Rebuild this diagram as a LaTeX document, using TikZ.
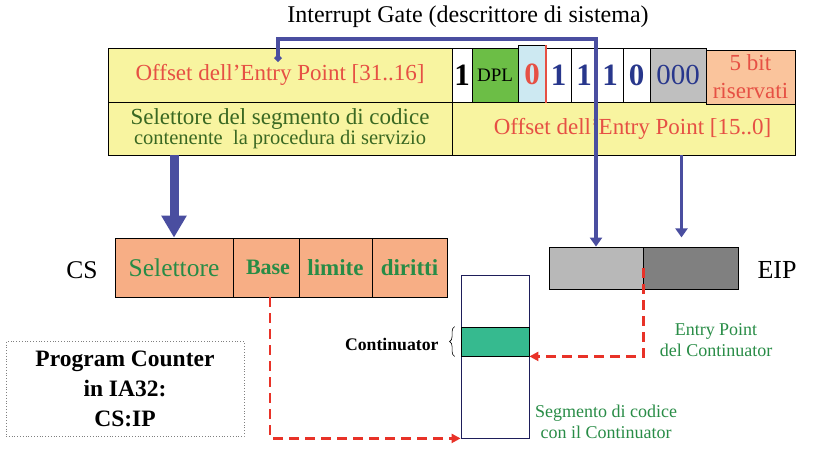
\documentclass[tikz,border=0pt]{standalone}
\usepackage{fontspec}
\setmainfont{Liberation Serif}
\usetikzlibrary{arrows.meta, positioning, calc, decorations.pathreplacing}

\definecolor{gateyellow}{RGB}{248,244,160}
\definecolor{offred}{RGB}{230,80,68}
\definecolor{selgreen}{RGB}{58,104,34}
\definecolor{txtgreen}{RGB}{40,140,70}
\definecolor{dplgreen}{RGB}{108,190,70}
\definecolor{bitblue}{RGB}{205,233,242}
\definecolor{digitblue}{RGB}{40,55,140}
\definecolor{resorange}{RGB}{250,196,156}
\definecolor{csorange}{RGB}{247,174,133}
\definecolor{linkblue}{RGB}{74,78,160}
\definecolor{eiplight}{RGB}{184,184,184}
\definecolor{eipdark}{RGB}{128,128,128}
\definecolor{contgreen}{RGB}{54,186,143}
\definecolor{dashred}{RGB}{232,50,40}
\definecolor{segnavy}{RGB}{30,30,90}

\newcommand{\fsz}[2]{\fontsize{#1}{#2}\selectfont}

\begin{document}
\begin{tikzpicture}[x=1pt, y=-1pt,
		cell/.style={rectangle, draw, line width=0.8pt, inner sep=0pt, minimum height=54pt},
		bitbold/.style={font=\fsz{31}{32}\bfseries},
		bluelink/.style={draw=linkblue, line width=3.5pt},
		dashlink/.style={draw=dashred, line width=2.6pt, dash pattern=on 10pt off 6pt, -{Triangle[length=9pt, width=9pt]}}]
			\useasboundingbox (0,0) rectangle (813,448);
			
			% Title
			\node[font=\fsz{24}{28}] (title) at (468,17) {Interrupt Gate (descrittore di sistema)};
			
			% Descriptor, left half
			\node[cell, fill=gateyellow, minimum width=344pt, text=offred, font=\fsz{23}{26}] (offhi) at (280,75) {\raisebox{-5pt}{Offset dell’Entry Point [31..16]}};
			\node[cell, fill=gateyellow, minimum width=344pt, minimum height=53pt, text=selgreen, align=center] (sel) at (280,128.5) {{\fsz{23}{23}Selettore del segmento di codice}\\{\fsz{20.5}{23}contenente\ \ la procedura di servizio}};
			
			% Descriptor, right half
			\node[cell, fill=gateyellow, minimum width=343pt, minimum height=53pt, text=offred, font=\fsz{23}{26}] (offlo) at (623.5,128.5) {\hspace*{18pt}Offset dell’Entry Point [15..0]};
			\node[cell, fill=white, minimum width=20pt, bitbold] (b15) at (462,75) {1};
			\node[cell, fill=dplgreen, minimum width=46pt, font=\fsz{19}{20}] (dpl) at (495,75) {DPL};
			\node[cell, fill=bitblue, minimum width=28pt, minimum height=57pt, bitbold, text=offred] (b12) at (532,74) {0};
			\node[cell, fill=white, minimum width=25pt, bitbold, text=digitblue] (b11) at (558.5,75) {1};
			\node[cell, fill=white, minimum width=26pt, bitbold, text=digitblue] (b10) at (584,75) {1};
			\node[cell, fill=white, minimum width=26pt, bitbold, text=digitblue] (b9) at (610,75) {1};
			\node[cell, fill=white, minimum width=27pt, bitbold, text=digitblue] (b8) at (636.5,75) {0};
			\node[cell, fill=eiplight!90!white, minimum width=56pt, font=\fsz{29}{30}, text=digitblue] (b7) at (678,75) {000};
			\node[cell, fill=resorange, minimum width=89pt, text=offred, align=center, font=\fsz{23}{28}] (res) at (750.5,77) {5 bit\\riservati};
			\draw[offred, line width=2pt] (b12.north east) -- (b12.south east);
			
			% CS register
			\node[cell, fill=csorange, minimum width=118pt, minimum height=59pt, text=txtgreen, font=\fsz{25.5}{28}] (cssel) at (174,267.5) {Selettore};
			\node[cell, fill=csorange, minimum width=66pt, minimum height=59pt, text=txtgreen, font=\fsz{22}{26}\bfseries] (csbase) at (266,267.5) {\hspace*{4pt}Base};
			\node[cell, fill=csorange, minimum width=73pt, minimum height=59pt, text=txtgreen, font=\fsz{23}{26}\bfseries] (cslim) at (335.5,267.5) {limite};
			\node[cell, fill=csorange, minimum width=75pt, minimum height=59pt, text=txtgreen, font=\fsz{23}{26}\bfseries] (csdir) at (409.5,267.5) {diritti};
			\node[font=\fsz{25.5}{28}] (cs) at (82,270) {CS};
			
			% EIP register
			\node[cell, fill=eiplight, minimum width=94pt, minimum height=42pt] (eiphi) at (596,268) {};
			\node[cell, fill=eipdark, minimum width=95pt, minimum height=42pt] (eiplo) at (690.5,268) {};
			\node[font=\fsz{26}{28}] (eip) at (777,270) {EIP};
			
			% Code segment
			\node[rectangle, draw=segnavy, line width=0.8pt, minimum width=68pt, minimum height=163pt] (seg) at (495,356.5) {};
			\node[cell, fill=contgreen, minimum width=68pt, minimum height=29pt] (cont) at (495,341.5) {};
			\node[anchor=east, font=\fsz{17.7}{20}\bfseries] (contlbl) at (442,344) {Continuator};
			\draw[line width=0.6pt, decorate, decoration={brace, amplitude=5pt}] ($(cont.south west)+(-6,0)$) -- ($(cont.north west)+(-6,0)$);
			\node[text=txtgreen, align=center, font=\fsz{18}{21}] (eplbl) at (716,340) {Entry Point\\del Continuator};
			\node[text=txtgreen, align=center, font=\fsz{18}{21}] (seglbl) at (606,422) {Segmento di codice\\con il Continuator};
			
			% Program counter box
			\node[rectangle, draw=gray, dotted, line width=0.8pt, minimum width=238pt, minimum height=95pt, align=center, font=\fsz{23.5}{30}\bfseries] (pc) at (125,389) {Program Counter\\in IA32:\\CS:IP};
			
			% Connections
			\coordinate (hook) at (278,62);
			\coordinate (bend) at (596,39);
			\draw[bluelink, {Diamond[length=8pt, width=8pt]}-{Triangle[length=9pt, width=12pt]}] (hook) |- (bend) -- (eiphi.north);
			\draw[draw=linkblue, line width=3pt, -{Triangle[length=9pt, width=12pt]}] ([xshift=58pt]offlo.south) -- ++(0,82);
			\draw[draw=linkblue, line width=9pt, -{Triangle[length=22pt, width=24pt]}] (sel.south -| cssel.north) -- (cssel.north);
			\draw[dashlink] (eiphi.east) |- (cont.south east);
			\draw[dashlink] ([xshift=4pt]csbase.south) |- (seg.south west);
		\end{tikzpicture}
\end{document}
